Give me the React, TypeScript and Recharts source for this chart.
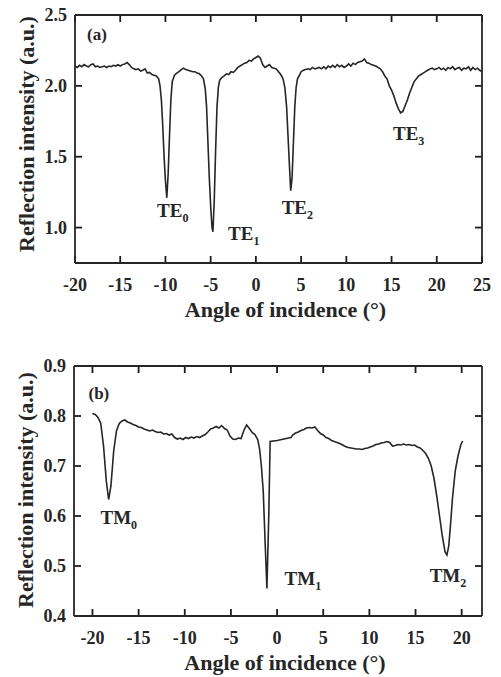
import React from 'react';
import { LineChart, Line, XAxis, YAxis, ReferenceDot, ReferenceLine, Label } from 'recharts';

const FONT = '"Liberation Serif", "Times New Roman", Times, serif';
const INK = '#262626';

// ---------- Panel (a): TE modes ----------
const anglesA = [
  -20, -19.75, -19.5, -19.25, -19, -18.75, -18.5, -18.25, -18, -17.75, -17.5, -17.25, -17, -16.75, -16.5, -16.25,
  -16, -15.75, -15.5, -15.25, -15, -14.75, -14.5, -14.25, -14, -13.75, -13.5, -13.25, -13, -12.75, -12.5, -12.25,
  -12, -11.75, -11.5, -11.25, -11, -10.75, -10.6, -10.45, -10.3, -10.15, -10.0, -9.85, -9.7, -9.55, -9.4, -9.25,
  -9.0, -8.75, -8.5, -8.25, -8.0, -7.75, -7.5, -7.25, -7.0, -6.75, -6.5, -6.25, -6.0, -5.8, -5.6, -5.45, -5.3,
  -5.15, -5.0, -4.85, -4.75, -4.6, -4.45, -4.3, -4.15, -4.0, -3.75, -3.5, -3.25, -3.0, -2.75, -2.5, -2.25, -2.0,
  -1.75, -1.5, -1.25, -1.0, -0.75, -0.5, -0.25, 0, 0.25, 0.5, 0.75, 1.0, 1.25, 1.5, 1.75, 2.0, 2.25, 2.5, 2.75,
  3.0, 3.2, 3.4, 3.55, 3.7, 3.85, 4.0, 4.15, 4.3, 4.45, 4.6, 4.85, 5.0, 5.25, 5.5, 5.75, 6.0, 6.25, 6.5, 6.75,
  7.0, 7.25, 7.5, 7.75, 8.0, 8.25, 8.5, 8.75, 9.0, 9.25, 9.5, 9.75, 10.0, 10.25, 10.5, 10.75, 11.0, 11.25, 11.5,
  11.75, 12.0, 12.25, 12.5, 12.75, 13.0, 13.25, 13.5, 13.75, 14.0, 14.25, 14.5, 14.75, 15.0, 15.25, 15.5, 15.75,
  16.0, 16.25, 16.5, 16.75, 17.0, 17.25, 17.5, 17.75, 18.0, 18.25, 18.5, 18.75, 19.0, 19.25, 19.5, 19.75, 20.0,
  20.25, 20.5, 20.75, 21.0, 21.25, 21.5, 21.75, 22.0, 22.25, 22.5, 22.75, 23.0, 23.25, 23.5, 23.75, 24.0, 24.25,
  24.5, 24.75, 25.0,
];
const intensityA = [
  2.14, 2.13, 2.145, 2.135, 2.15, 2.14, 2.135, 2.15, 2.155, 2.135, 2.14, 2.13, 2.135, 2.14, 2.13, 2.14,
  2.135, 2.145, 2.14, 2.15, 2.14, 2.15, 2.155, 2.165, 2.15, 2.13, 2.12, 2.115, 2.12, 2.105, 2.11, 2.12,
  2.09, 2.095, 2.08, 2.075, 2.07, 2.05, 2.0, 1.9, 1.72, 1.5, 1.33, 1.21, 1.38, 1.65, 1.9, 2.03,
  2.075, 2.09, 2.1, 2.115, 2.125, 2.115, 2.11, 2.105, 2.1, 2.1, 2.09, 2.085, 2.07, 2.05, 1.98, 1.85, 1.6,
  1.35, 1.15, 1.0, 0.97, 1.2, 1.55, 1.85, 1.99, 2.04, 2.06, 2.07, 2.085, 2.08, 2.1, 2.095, 2.11, 2.13,
  2.14, 2.15, 2.16, 2.165, 2.18, 2.175, 2.19, 2.2, 2.21, 2.195, 2.15, 2.13, 2.14, 2.15, 2.13, 2.125, 2.12, 2.1, 2.08,
  2.05, 1.99, 1.85, 1.65, 1.45, 1.26, 1.35, 1.6, 1.85, 1.99, 2.05, 2.08, 2.1, 2.11, 2.115, 2.12, 2.115, 2.13, 2.12, 2.125,
  2.13, 2.12, 2.135, 2.12, 2.14, 2.13, 2.145, 2.13, 2.15, 2.135, 2.145, 2.13, 2.14, 2.155, 2.14, 2.16, 2.15, 2.165, 2.17,
  2.175, 2.19, 2.165, 2.16, 2.15, 2.145, 2.14, 2.13, 2.12, 2.1, 2.07, 2.05, 2.0, 1.97, 1.93, 1.88, 1.84,
  1.81, 1.82, 1.86, 1.9, 1.95, 1.99, 2.03, 2.05, 2.07, 2.08, 2.09, 2.1, 2.11, 2.12, 2.125, 2.115, 2.12,
  2.13, 2.115, 2.125, 2.11, 2.13, 2.12, 2.135, 2.115, 2.125, 2.13, 2.11, 2.125, 2.12, 2.135, 2.11, 2.13, 2.115,
  2.125, 2.11, 2.1,
];
const xTicksA = [-20, -15, -10, -5, 0, 5, 10, 15, 20, 25];
const yTicksA = [1.0, 1.5, 2.0, 2.5];
const xDomainA = [-20, 25];
const yDomainA = [0.75, 2.5];
const modeNamesA = ['TE', 'TE', 'TE', 'TE'];
const modeSubsA = ['0', '1', '2', '3'];
const modeXA = [-10.93, -3.08, 2.85, 15.16];
const modeYA = [1.077, 0.915, 1.099, 1.62];
const tagA = { text: '(a)', x: -18.67, y: 2.324 };

// ---------- Panel (b): TM modes ----------
const anglesB = [
  -20, -19.7, -19.4, -19.1, -18.8, -18.5, -18.25, -18.0, -17.7, -17.4, -17.1, -16.8, -16.5, -16.2, -15.9, -15.6,
  -15.3, -15.0, -14.7, -14.4, -14.1, -13.8, -13.5, -13.2, -12.9, -12.6, -12.3, -12.0, -11.7, -11.4, -11.1, -10.8,
  -10.5, -10.2, -9.9, -9.6, -9.3, -9.0, -8.7, -8.4, -8.1, -7.8, -7.5, -7.2, -6.9, -6.6, -6.3, -6.0, -5.7, -5.4,
  -5.1, -4.8, -4.5, -4.2, -3.9, -3.6, -3.3, -3.0, -2.7, -2.4, -2.1, -1.9, -1.7, -1.5, -1.3, -1.1, -0.9, -0.75,
  0, 0.5, 1.0, 1.5, 1.7, 2.0, 2.3, 2.6, 2.9, 3.2, 3.5, 3.8, 4.1, 4.4, 4.7, 5.0, 5.3, 5.6, 5.9, 6.2, 6.5, 6.8,
  7.1, 7.4, 7.7, 8.0, 8.3, 8.6, 8.9, 9.2, 9.5, 9.8, 10.1, 10.4, 10.7, 11.0, 11.3, 11.6, 11.9, 12.2, 12.5, 12.8,
  13.1, 13.4, 13.7, 14.0, 14.3, 14.6, 14.9, 15.2, 15.5, 15.8, 16.1, 16.4, 16.7, 17.0, 17.3, 17.6, 17.9, 18.2,
  18.4, 18.6, 18.8, 19.0, 19.3, 19.6, 19.9, 20.1,
];
const intensityB = [
  0.805, 0.803, 0.797, 0.785, 0.74, 0.67, 0.633, 0.66, 0.73, 0.77, 0.785, 0.79, 0.792, 0.788, 0.786, 0.783,
  0.781, 0.778, 0.777, 0.774, 0.772, 0.77, 0.772, 0.769, 0.767, 0.768, 0.764, 0.765, 0.762, 0.764, 0.757, 0.754,
  0.756, 0.753, 0.757, 0.755, 0.758, 0.756, 0.759, 0.757, 0.76, 0.763, 0.768, 0.774, 0.776, 0.779, 0.776, 0.781, 0.775, 0.772,
  0.76, 0.754, 0.753, 0.756, 0.755, 0.771, 0.782, 0.775, 0.767, 0.763, 0.753, 0.735, 0.7, 0.65, 0.55, 0.455, 0.6, 0.749,
  0.751, 0.753, 0.755, 0.757, 0.762, 0.766, 0.768, 0.771, 0.773, 0.776, 0.777, 0.776, 0.778, 0.771, 0.765, 0.762, 0.757, 0.755, 0.751, 0.749, 0.747, 0.745,
  0.742, 0.739, 0.737, 0.736, 0.735, 0.734, 0.734, 0.733, 0.735, 0.736, 0.738, 0.74, 0.743, 0.744, 0.746, 0.747, 0.749, 0.747, 0.74, 0.741,
  0.743, 0.742, 0.744, 0.742, 0.743, 0.741, 0.742, 0.738, 0.736, 0.731, 0.725, 0.715, 0.7, 0.675, 0.64, 0.6, 0.56, 0.528,
  0.522, 0.54, 0.585, 0.635, 0.69, 0.72, 0.742, 0.75,
];
const xTicksB = [-20, -15, -10, -5, 0, 5, 10, 15, 20];
const yTicksB = [0.4, 0.5, 0.6, 0.7, 0.8, 0.9];
const xDomainB = [-22, 22.2];
const yDomainB = [0.4, 0.9];
const modeNamesB = ['TM', 'TM', 'TM'];
const modeSubsB = ['0', '1', '2'];
const modeXB = [-19.13, 0.81, 16.53];
const modeYB = [0.584, 0.462, 0.468];
const tagB = { text: '(b)', x: -20.43, y: 0.834 };

const X_TITLE = 'Angle of incidence (°)';
const Y_TITLE = 'Reflection intensity (a.u.)';

const dataA = anglesA.map((x, i) => ({ x, y: intensityA[i] }));
const dataB = anglesB.map((x, i) => ({ x, y: intensityB[i] }));
const modesA = modeNamesA.map((n, i) => ({ name: n, sub: modeSubsA[i], x: modeXA[i], y: modeYA[i] }));
const modesB = modeNamesB.map((n, i) => ({ name: n, sub: modeSubsB[i], x: modeXB[i], y: modeYB[i] }));

const textStyle = { fontFamily: FONT, fontWeight: 700, fill: INK } as const;
const CHART_W = 501;
const X_AXIS_H = 30;
const TICK_LEN = 7;

type PanelProps = {
  data: { x: number; y: number }[];
  xTicks: number[];
  yTicks: number[];
  xDomain: number[];
  yDomain: number[];
  modes: { name: string; sub: string; x: number; y: number }[];
  tag: { text: string; x: number; y: number };
  height: number;
  margin: { top: number; right: number; bottom: number; left: number };
  yTitleShift: number;
  leftWidth: number;
};

function Panel({ data, xTicks, yTicks, xDomain, yDomain, modes, tag, height, margin, yTitleShift, leftWidth }: PanelProps) {
  const plotH = height - margin.top - margin.bottom - X_AXIS_H;
  const plotW = CHART_W - margin.left - margin.right - leftWidth;
  // tick length expressed in data units so the library scales place the marks
  const dy = ((yDomain[1] - yDomain[0]) * TICK_LEN) / plotH;
  const dx = ((xDomain[1] - xDomain[0]) * TICK_LEN) / plotW;

  const axisCommon = { stroke: INK, strokeWidth: 1.8, allowDataOverflow: true, interval: 0 as const, tickLine: false };
  const tickStroke = { stroke: '#1c1c1c', strokeWidth: 1.8, ifOverflow: 'visible' as const, xAxisId: 'b', yAxisId: 'l' };
  return (
    <LineChart width={CHART_W} height={height} data={data} margin={margin}>
      <XAxis
        xAxisId="b"
        dataKey="x"
        type="number"
        orientation="bottom"
        domain={xDomain}
        ticks={xTicks}
        height={X_AXIS_H}
        tickMargin={9}
        tick={{ ...textStyle, fontSize: 18 }}
        {...axisCommon}
      >
        <Label
          content={(p: any) => {
            const vb = p.viewBox || { x: 0, y: 0, width: 0 };
            return (
              <text x={vb.x + vb.width / 2 + 7} y={vb.y + 54} textAnchor="middle" style={{ ...textStyle, fontSize: 22 }}>
                {X_TITLE}
              </text>
            );
          }}
        />
      </XAxis>
      <XAxis xAxisId="t" type="number" orientation="top" domain={xDomain} ticks={xTicks} height={0.01} tick={false} {...axisCommon} />
      <YAxis
        yAxisId="l"
        type="number"
        orientation="left"
        domain={yDomain}
        ticks={yTicks}
        width={leftWidth}
        tickMargin={2}
        tickFormatter={(v: number) => v.toFixed(1)}
        tick={{ ...textStyle, fontSize: 18 }}
        {...axisCommon}
      >
        <Label
          content={(p: any) => {
            const vb = p.viewBox || { x: 0, y: 0, width: 0, height: 0 };
            const cx = vb.x + vb.width - 41;
            const cy = vb.y + vb.height / 2 + yTitleShift;
            return (
              <text
                x={cx}
                y={cy}
                textAnchor="middle"
                transform={`rotate(-90, ${cx}, ${cy})`}
                style={{ ...textStyle, fontSize: 22 }}
              >
                {Y_TITLE}
              </text>
            );
          }}
        />
      </YAxis>
      <YAxis yAxisId="r" type="number" orientation="right" domain={yDomain} ticks={yTicks} width={0.01} tick={false} {...axisCommon} />

      {xTicks.map((t) => (
        <ReferenceLine key={`xb${t}`} {...tickStroke} segment={[{ x: t, y: yDomain[0] }, { x: t, y: yDomain[0] + dy }]} />
      ))}
      {xTicks.map((t) => (
        <ReferenceLine key={`xt${t}`} {...tickStroke} segment={[{ x: t, y: yDomain[1] }, { x: t, y: yDomain[1] - dy }]} />
      ))}
      {yTicks.map((t) => (
        <ReferenceLine key={`yl${t}`} {...tickStroke} segment={[{ x: xDomain[0], y: t }, { x: xDomain[0] + dx, y: t }]} />
      ))}
      {yTicks.map((t) => (
        <ReferenceLine key={`yr${t}`} {...tickStroke} segment={[{ x: xDomain[1], y: t }, { x: xDomain[1] - dx, y: t }]} />
      ))}

      <Line
        xAxisId="b"
        yAxisId="l"
        type="linear"
        dataKey="y"
        stroke={INK}
        strokeWidth={1.6}
        dot={false}
        activeDot={false}
        isAnimationActive={false}
      />
      {modes.map((m, i) => (
        <ReferenceDot
          key={`m${i}`}
          xAxisId="b"
          yAxisId="l"
          x={m.x}
          y={m.y}
          r={0}
          fill="none"
          stroke="none"
          label={{
            content: (p: any) => {
              const vb = p.viewBox || { x: 0, y: 0 };
              return (
                <text x={vb.x} y={vb.y} style={{ ...textStyle, fontSize: 19 }}>
                  <tspan>{m.name}</tspan>
                  <tspan dy={5} fontSize={12}>{m.sub}</tspan>
                </text>
              );
            },
          }}
        />
      ))}
      <ReferenceDot
        xAxisId="b"
        yAxisId="l"
        x={tag.x}
        y={tag.y}
        r={0}
        fill="none"
        stroke="none"
        label={{
          content: (p: any) => {
            const vb = p.viewBox || { x: 0, y: 0 };
            return (
              <text x={vb.x} y={vb.y} style={{ ...textStyle, fontSize: 17 }}>
                {tag.text}
              </text>
            );
          },
        }}
      />
    </LineChart>
  );
}

export default function App() {
  return (
    <div style={{ position: 'absolute', left: 0, top: 0, width: 501, height: 677, background: '#fff' }}>
      <div style={{ position: 'absolute', left: 0, top: 0 }}>
        <Panel
          data={dataA}
          xTicks={xTicksA}
          yTicks={yTicksA}
          xDomain={xDomainA}
          yDomain={yDomainA}
          modes={modesA}
          tag={tagA}
          height={340}
          margin={{ top: 15, right: 19, bottom: 47, left: 0 }}
          yTitleShift={-5}
          leftWidth={75}
        />
      </div>
      <div style={{ position: 'absolute', left: 0, top: 340 }}>
        <Panel
          data={dataB}
          xTicks={xTicksB}
          yTicks={yTicksB}
          xDomain={xDomainB}
          yDomain={yDomainB}
          modes={modesB}
          tag={tagB}
          height={337}
          margin={{ top: 26, right: 19, bottom: 31, left: 0 }}
          yTitleShift={-1}
          leftWidth={74}
        />
      </div>
    </div>
  );
}
